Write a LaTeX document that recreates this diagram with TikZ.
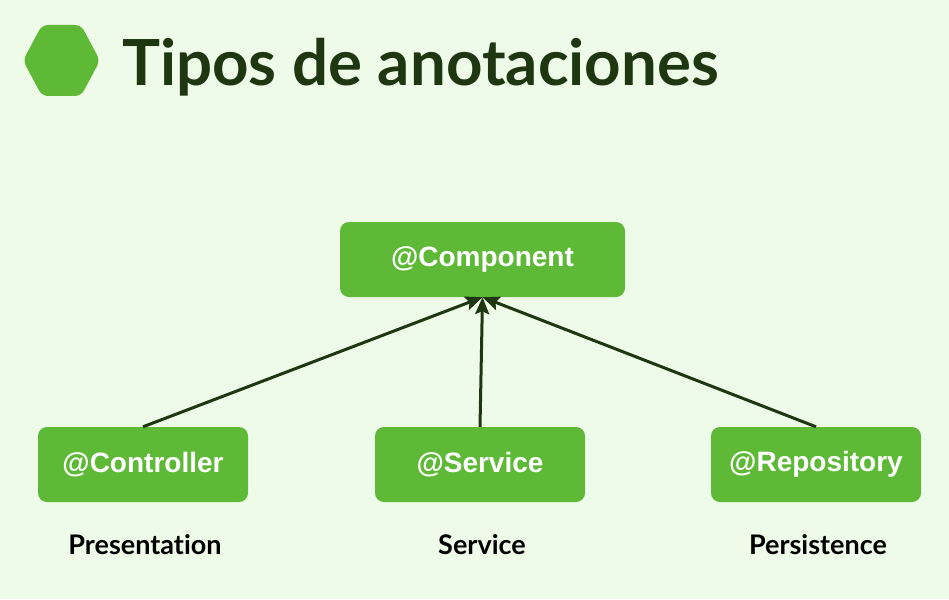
\documentclass[tikz,border=0pt]{standalone}
\usepackage{fontspec}
\setmainfont{Lato}[Ligatures={NoCommon}]
\newfontfamily\boxfont{Liberation Sans}
\usetikzlibrary{arrows.meta}
\definecolor{bgcol}{HTML}{EFFBE9}
\definecolor{leaf}{HTML}{5EB936}
\definecolor{darkleaf}{HTML}{1F3711}
\tikzset{
    annot/.style={fill=leaf, rounded corners=9pt, minimum height=75pt, text=white, font=\boxfont\bfseries\fontsize{28}{30}\selectfont},
    layer/.style={anchor=base, font=\bfseries\fontsize{27}{30}\selectfont},
    inherits/.style={darkleaf, line width=3pt, -{Stealth[length=17pt, width=14pt, inset=3pt]}}
}
\begin{document}
\begin{tikzpicture}[x=1pt, y=-1pt]
    % Page and background
    \useasboundingbox (0,0) rectangle (949,599);
    \fill[bgcol] (0,0) rectangle (949,599);

    % Title with hexagon mark
    \fill[leaf, rounded corners=6pt] (23,60.5) -- (42,25) -- (81,25) -- (100,60.5) -- (81,96) -- (42,96) -- cycle;
    \node[anchor=base west, inner sep=0pt, text=darkleaf, font=\bfseries\fontsize{63.6}{70}\selectfont] (title) at (122,86) {Tipos de anotaciones};

    % Annotation boxes
    \node[annot, minimum width=285pt] (component) at (482.5,259.5) {\raisebox{-2pt}{@Component}};
    \foreach \n/\x/\txt/\lay in {controller/143/Controller/Presentation, service/480/Service/Service, repository/816/Repository/Persistence} {
        \node[annot, minimum width=210pt] (\n) at (\x,464.5) {\raisebox{-2pt}{@\txt}};
        \node[layer] (\n-layer) at (\x+2,554) {\lay};
    }

    % Stereotypes point to @Component
    \foreach \n in {controller, service, repository}
        \draw[inherits] (\n.north) -- (component.south);
\end{tikzpicture}
\end{document}
